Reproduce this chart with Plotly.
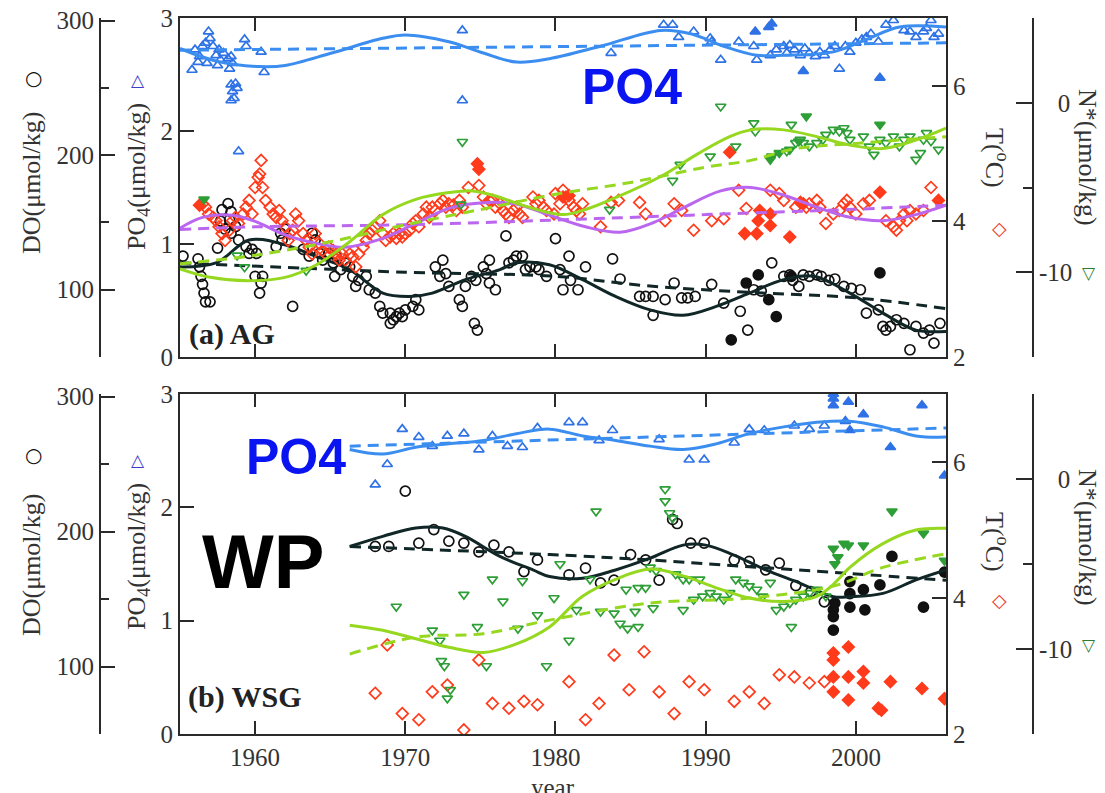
import plotly.graph_objects as go

# ---------------- DATA: (a) AG ----------------
AG_PO4_OPEN = [(1955.8,2.54),(1956.0,2.72),(1956.2,2.61),(1956.3,2.66),(1956.5,2.75),(1956.7,2.78),(1956.8,2.60),
    (1956.9,2.88),(1957.0,2.82),(1957.2,2.75),(1957.4,2.67),(1957.5,2.58),(1957.6,2.72),(1957.7,2.63),(1957.9,2.69),
    (1958.2,2.64),(1958.3,2.55),(1958.4,2.66),(1958.5,2.60),(1958.4,2.41),(1958.7,2.42),(1958.5,2.35),(1958.8,2.38),
    (1958.6,2.29),(1958.4,2.27),(1958.9,1.82),(1959.3,2.81),(1959.4,2.75),(1960.4,2.70),(1960.6,2.52),(1973.8,2.89),
    (1973.8,2.27),(1983.7,2.69),(1987.2,2.94),(1987.8,2.94),(1988.2,2.83),(1989.2,2.88),(1990.3,2.82),(1990.4,2.79),
    (1991.0,2.63),(1992.2,2.79),(1993.2,2.75),(1993.4,2.63),(1994.3,2.67),(1994.7,2.72),(1995.2,2.75),(1995.4,2.69),
    (1995.6,2.76),(1995.9,2.72),(1996.3,2.67),(1996.6,2.73),(1996.9,2.69),(1997.3,2.66),(1997.6,2.70),(1997.9,2.67),
    (1998.3,2.72),(1998.6,2.75),(1998.9,2.55),(1999.3,2.75),(1999.6,2.70),(2000.0,2.78),(2000.4,2.81),(2000.7,2.83),
    (2001.0,2.86),(2001.5,2.79),(2002.0,2.94),(2002.5,2.98),(2003.2,2.89),(2003.6,2.88),(2004.0,2.83),(2004.5,2.88),
    (2004.7,2.91),(2005.0,2.98),(2005.2,2.83),(2005.5,2.86)]
AG_PO4_FILLED = [(1993.3,2.88),(1994.2,2.92),(1994.4,2.95),(1996.5,2.53),(2001.6,2.47)]
AG_PO4_FIT_YEAR = [1955,1957.4,1960.3,1962,1965.1,1968.5,1970,1972.9,1975.2,1977.4,1979.6,1983,1987,1989,1991.2,
    1993.4,1995.2,1998.5,2000.7,2002.9,2006]
AG_PO4_FIT = [2.73,2.62,2.57,2.58,2.69,2.82,2.85,2.79,2.69,2.61,2.64,2.75,2.89,2.86,2.75,2.67,2.67,2.70,2.81,2.92,2.92]
AG_PO4_TREND_YEAR = [1955, 2006]
AG_PO4_TREND = [2.715, 2.78]

AG_DO_OPEN = [(1955.2,125),(1956.2,123),(1956.3,117),(1956.4,110),(1956.5,104),(1956.6,97.5),(1956.7,91),(1957.0,91),
    (1957.5,131),(1957.7,151),(1957.8,159.5),(1958.2,164),(1958.4,158),(1958.4,142),(1958.7,147),(1958.3,152),
    (1958.0,145),(1958.9,137),(1959.4,132),(1959.6,127),(1959.8,130),(1960.1,127),(1960.0,110),(1960.3,97.5),
    (1960.5,110),(1960.4,105),(1961.4,132),(1961.7,142),(1961.8,137),(1962.0,145),(1962.5,87.6),(1963.2,130),
    (1963.6,125),(1963.8,142),(1964.0,137),(1964.3,127),(1964.5,122),(1964.9,127),(1965.2,120),(1965.4,125),
    (1965.3,110),(1965.7,115),(1966.0,120),(1966.3,117),(1966.5,110),(1966.7,102.5),(1966.9,107),(1967.4,110),
    (1967.6,100),(1968.0,97.5),(1968.3,87.6),(1968.5,82.6),(1969.0,82.6),(1969.0,75),(1969.2,77.7),(1969.4,80),
    (1969.6,82.6),(1969.8,80),(1970.0,85),(1970.5,87.6),(1970.7,92.6),(1970.9,85),(1972.0,117),(1972.5,122),
    (1972.3,110),(1972.7,112),(1972.9,102.5),(1973.6,92.6),(1973.8,87.6),(1974.0,102.5),(1974.4,110),(1974.6,75),
    (1974.8,70),(1974.7,107),(1975.2,117),(1975.4,112),(1975.6,105),(1976.0,100),(1975.6,122),(1976.7,140),
    (1976.9,120),(1977.2,122),(1977.4,125),(1977.8,125),(1978.0,115),(1978.3,117),(1978.7,117),(1978.9,115),
    (1979.4,110),(1980.0,138),(1980.3,115),(1980.5,100),(1980.9,125),(1981.0,107),(1981.5,100),(1982.0,117),
    (1983.8,123),(1984.3,108),(1985.6,95),(1986.0,95),(1986.5,95),(1986.5,81),(1987.3,92.6),(1987.9,105),
    (1988.4,94),(1988.8,94),(1989.3,95),(1990.4,104),(1991.2,90),(1992.3,84),(1992.8,70),(1993.2,100),(1993.7,99),
    (1994.4,120),(1995.2,110),(1995.6,111),(1995.8,107),(1996.2,102.5),(1996.5,111),(1996.9,110),(1997.4,111),
    (1997.7,110),(1998.2,107),(1998.6,108),(1999.2,102.5),(1999.7,101),(2000.3,100),(2000.7,82.6),(2001.5,85),
    (2001.8,72.7),(2002.0,70),(2002.3,72.7),(2002.7,77.7),(2003.2,75),(2003.6,55.4),(2004.0,72.7),(2004.5,67.8),
    (2004.9,70),(2005.2,60.3),(2005.6,75)]
AG_DO_FILLED = [(1992.7,105),(1993.5,111),(1994.2,92.6),(1994.7,80),(1991.7,62.8),(1995.7,110),(2001.6,112.5)]
AG_DO_FIT_YEAR = [1955,1957.4,1959.6,1961.8,1964,1966.3,1968.5,1970.3,1971.8,1974,1976.3,1977.4,1979.6,1981.8,1984,
    1986.3,1988.5,1990.7,1992.9,1995.2,1997.2,1999.6,2001.8,2004,2006]
AG_DO_FIT = [117,120,137,134,125,115,97.5,95,97.5,107.5,115,120,118.6,107.5,95,85,81,87.6,97.5,107.5,110,97.5,82.6,70,69]
AG_DO_TREND_YEAR = [1955,1970,1980,1986,1993,2000,2006]
AG_DO_TREND = [120,113,110,103,98,94,86]

AG_T_OPEN = [(1956.5,4.26),(1956.7,4.21),(1956.9,4.11),(1957.2,4.06),(1957.4,4.01),(1957.6,3.92),(1957.8,3.82),
    (1958.0,3.72),(1958.3,3.87),(1958.5,4.01),(1958.7,4.06),(1958.9,3.97),(1959.2,4.11),(1959.4,4.21),(1959.6,4.31),
    (1959.8,4.11),(1960.0,4.50),(1960.2,4.65),(1960.3,4.70),(1960.4,4.90),(1960.5,4.50),(1960.7,4.31),(1961.0,4.21),
    (1961.2,4.11),(1961.4,4.06),(1961.6,4.16),(1961.8,4.01),(1962.0,3.92),(1962.2,3.72),(1962.3,3.82),(1962.5,3.87),
    (1962.7,4.11),(1962.9,4.01),(1963.2,3.82),(1963.4,3.72),(1963.6,3.62),(1963.8,3.52),(1964.0,3.82),(1964.3,3.67),
    (1964.5,3.57),(1964.7,3.52),(1964.9,3.62),(1965.2,3.57),(1965.4,3.52),(1965.6,3.43),(1965.8,3.52),(1966.0,3.43),
    (1966.3,3.52),(1966.5,3.48),(1966.7,3.33),(1966.9,3.52),(1967.2,3.62),(1967.4,3.72),(1967.6,3.82),(1967.8,3.87),
    (1968.0,3.92),(1968.3,4.01),(1968.5,3.82),(1968.7,3.72),(1969.0,3.77),(1969.2,3.82),(1969.4,3.75),(1969.6,3.82),
    (1969.8,3.77),(1970.0,3.82),(1970.3,3.87),(1970.5,3.97),(1970.7,4.01),(1970.9,3.92),(1971.2,4.11),(1971.4,4.21),
    (1971.6,4.06),(1971.8,4.21),(1972.0,4.16),(1972.3,4.26),(1972.5,4.31),(1972.7,4.21),(1972.9,4.26),(1973.2,4.24),
    (1973.4,4.16),(1973.6,4.31),(1973.8,4.21),(1974.2,4.50),(1974.9,4.53),(1975.2,4.36),(1975.4,4.26),(1975.6,4.31),
    (1975.8,4.31),(1976.0,4.21),(1976.3,4.26),(1976.5,4.16),(1976.7,4.11),(1976.9,4.06),(1977.2,4.16),(1977.4,4.21),
    (1977.6,4.11),(1977.8,4.06),(1978.5,4.36),(1978.7,4.26),(1978.9,4.31),(1979.2,4.21),(1979.4,4.16),(1980.0,4.41),
    (1980.5,4.46),(1980.7,4.36),(1980.9,4.31),(1980.3,4.26),(1979.9,4.11),(1981.2,4.21),(1981.4,4.16),(1981.6,4.11),
    (1981.8,4.26),(1983.0,3.92),(1983.7,4.28),(1984.2,4.31),(1985.6,4.28),(1986.0,4.11),(1987.3,4.01),(1987.9,4.26),
    (1988.4,4.16),(1989.2,3.87),(1990.4,4.01),(1991.2,4.04),(1992.2,4.46),(1992.7,4.19),(1994.3,4.46),(1994.9,4.41),
    (1995.2,4.31),(1996.0,4.21),(1996.7,4.21),(1996.9,4.26),(1997.4,4.31),(1997.6,4.21),(1998.0,3.97),(1998.5,4.11),
    (1998.9,4.16),(1999.2,4.26),(1999.4,4.31),(1999.6,4.21),(2000.0,4.11),(2000.5,4.26),(2000.9,4.31),(2002.0,4.01),
    (2002.5,3.92),(2002.7,3.87),(2002.9,4.01),(2003.2,4.11),(2003.4,4.01),(2003.6,4.16),(2004.0,4.11),(2004.5,4.16),
    (2005.0,4.50)]
AG_T_FILLED = [(1956.3,4.24),(1974.8,4.85),(1974.9,4.77),(1980.5,4.36),(1980.9,4.38),(1991.6,5.02),(1992.6,3.82),
    (1993.4,3.82),(1993.5,4.01),(1993.6,4.16),(1994.3,4.11),(1994.3,3.94),(1995.6,3.77),(1996.3,4.28),(1996.5,4.26),
    (2001.6,4.43),(2005.5,4.31)]
AG_T_FIT_YEAR = [1955,1956.5,1958.5,1960,1962,1964,1966,1968.5,1970.7,1973,1975.5,1977.5,1979.5,1982,1984.3,1986.5,
    1988.5,1991,1993,1995,1997.4,1999.6,2001.8,2004,2006]
AG_T_FIT = [3.90,4.06,4.09,4.00,3.80,3.68,3.62,3.75,3.97,4.20,4.28,4.25,4.10,3.92,3.84,3.98,4.20,4.45,4.50,4.40,4.21,
    4.06,4.01,4.10,4.24]
AG_T_TREND_YEAR = [1955,1960,1970,1980,1990,2000,2006]
AG_T_TREND = [3.88,3.92,3.95,4.02,4.10,4.18,4.24]

AG_N_OPEN = [(1958.8,-9.0),(1959.3,-9.7),(1963.4,-9.9),(1973.8,-2.3),(1973.7,-6.0),(1983.6,-6.3),(1987.8,-4.6),
    (1988.3,-3.65),(1990.3,-3.16),(1991.0,-0.22),(1992.0,-2.57),(1993.2,-1.2),(1993.3,-1.69),(1995.7,-1.29),
    (1995.4,-2.86),(1996.0,-2.37),(1996.3,-2.18),(1996.5,-2.37),(1996.9,-2.57),(1997.4,-2.37),(1997.8,-2.18),
    (1998.0,-1.88),(1998.5,-1.59),(1998.9,-1.69),(1999.2,-1.49),(1999.4,-1.78),(1999.6,-2.18),(2000.5,-1.98),
    (2000.9,-2.57),(2001.2,-3.06),(2001.6,-2.18),(2002.0,-2.37),(2002.5,-1.98),(2002.9,-2.57),(2003.2,-2.18),
    (2003.6,-1.98),(2004.0,-3.35),(2004.3,-2.96),(2004.5,-2.18),(2004.7,-1.78),(2005.0,-2.27),(2005.5,-2.76)]
AG_N_FILLED = [(1956.6,-5.7),(1996.7,-0.8),(2001.6,-1.29),(1994.3,-3.35),(1994.4,-3.16),(1994.9,-2.96),
    (1995.6,-2.76),(1996.2,-2.27)]
AG_N_FIT_YEAR = [1955,1957,1959.5,1962,1964,1966.3,1968.5,1970.7,1972.9,1974.5,1976,1978,1980.5,1982,1984,1987,
    1989.5,1991.6,1993,1995.2,1997.4,1999.6,2001.8,2004,2006]
AG_N_FIT = [-9.8,-10.3,-10.5,-10.3,-9.6,-8.2,-6.6,-5.7,-5.3,-5.2,-5.5,-6.1,-6.6,-6.3,-5.6,-4.35,-3.0,-2.0,-1.6,-1.6,
    -2.0,-2.5,-2.7,-2.2,-1.5]
AG_N_TREND_YEAR = [1955,1960,1965,1970,1975,1980,1985,1990,1993,1996,2000,2006]
AG_N_TREND = [-9.5,-9.0,-8.2,-7.2,-6.3,-5.4,-4.7,-3.8,-3.4,-2.7,-2.4,-2.0]

# ---------------- DATA: (b) WSG ----------------
WSG_PO4_OPEN = [(1968.0,2.20),(1968.8,2.38),(1969.8,2.69),(1970.9,2.62),(1971.8,2.54),(1972.8,2.63),(1973.9,2.65),
    (1974.9,2.51),(1975.8,2.63),(1976.8,2.54),(1977.8,2.53),(1978.8,2.70),(1980.9,2.75),(1981.8,2.75),(1982.9,2.59),
    (1983.8,2.68),(1986.9,2.60),(1988.9,2.42),(1989.9,2.42),(1991.9,2.57),(1992.9,2.69),(1993.9,2.68),(1995.9,2.72),
    (1996.9,2.69),(1997.9,2.72)]
WSG_PO4_FILLED = [(1998.5,3.0),(1998.5,2.96),(1998.5,2.90),(1999.3,2.76),(1999.5,2.93),(1999.6,2.68),(2000.5,2.82),
    (2002.3,2.53),(2004.4,2.90),(2005.9,2.28)]
WSG_PO4_FIT_YEAR = [1966.3,1968.5,1970.7,1972.9,1975.2,1977.4,1979.6,1981.8,1984,1986.3,1988.5,1990.7,1992.9,1995.2,
    1997.4,1999.6,2001.8,2004,2006]
WSG_PO4_FIT = [2.51,2.47,2.53,2.56,2.59,2.65,2.69,2.63,2.59,2.54,2.51,2.56,2.65,2.71,2.75,2.76,2.71,2.63,2.62]
WSG_PO4_TREND_YEAR = [1966.3, 2006]
WSG_PO4_TREND = [2.54, 2.70]

WSG_DO_OPEN = [(1970.0,230),(1968.0,189),(1968.9,189),(1970.9,191.5),(1971.9,201.5),(1972.9,193),(1973.9,191.5),
    (1974.9,185),(1975.9,190),(1976.9,185),(1977.9,170.4),(1978.8,179),(1980.9,168),(1982.0,173),(1983.0,162),
    (1983.9,164),(1985.0,183),(1986.0,179),(1986.9,164),(1987.8,209),(1988.1,206),(1989.0,191.5),(1989.9,191.5),
    (1991.9,179),(1992.9,178),(1994.0,171.6),(1994.9,176.6),(1996.0,160),(1997.0,155.5),(1997.9,148)]
WSG_DO_FILLED = [(1998.5,142),(1998.5,137),(1998.5,127),(1998.6,147),(1999.6,163),(1999.6,154),(1999.6,144),
    (2000.5,157),(2000.6,142),(2001.6,160.5),(2002.4,181.6),(2004.5,144),(2005.9,170)]
WSG_DO_FIT_YEAR = [1966.3,1968.5,1970.7,1972.5,1974,1976.3,1978.5,1979.6,1981.8,1984,1986.3,1988.5,1990,1991.8,1994,
    1996.3,1998.5,1999.6,2001.8,2004,2006]
WSG_DO_FIT = [189,196.5,202.7,202.7,196.5,181.6,171.6,166.7,165.4,171.6,180.3,190,190,183,171.6,161.7,151.7,151.7,
    154.2,164.2,171.6]
WSG_DO_TREND_YEAR = [1966.3,1979.6,1986.3,1992.9,1999.6,2006]
WSG_DO_TREND = [189,183,179,174,169,164]

WSG_T_OPEN = [(1968.0,2.60),(1968.8,3.31),(1969.8,2.30),(1970.9,2.21),(1971.8,2.62),(1972.8,2.72),(1973.9,2.06),
    (1974.9,3.09),(1975.8,2.45),(1976.9,2.38),(1977.9,2.48),(1978.8,2.43),(1980.9,2.77),(1982.0,2.21),(1982.9,2.45),
    (1983.9,3.16),(1984.9,2.65),(1985.9,3.21),(1986.9,2.62),(1987.9,2.30),(1988.9,2.77),(1989.9,2.65),(1991.9,2.48),
    (1992.9,2.62),(1993.9,2.45),(1994.9,2.87),(1995.9,2.84),(1996.9,2.75),(1997.9,2.77)]
WSG_T_FILLED = [(1998.5,3.19),(1998.5,3.09),(1998.5,2.84),(1998.5,2.62),(1999.5,3.28),(1999.5,2.84),(1999.5,2.50),
    (2000.5,2.92),(2000.5,2.75),(2001.5,2.38),(2001.7,2.35),(2002.3,2.77),(2004.4,2.67),(2005.9,2.52)]

WSG_N_OPEN = [(1969.4,-7.5),(1971.8,-8.9),(1972.3,-9.5),(1972.4,-10.7),(1972.6,-11.0),(1972.8,-12.9),(1973.0,-12.4),
    (1973.9,-6.8),(1974.8,-8.7),(1975.4,-11.0),(1975.8,-5.9),(1976.5,-7.2),(1977.5,-8.8),(1977.8,-6.0),(1978.8,-8.0),
    (1979.4,-11.0),(1979.9,-7.0),(1980.3,-5.0),(1980.9,-9.5),(1981.4,-7.7),(1982.3,-5.9),(1982.7,-1.9),(1983.0,-7.8),
    (1983.9,-7.9),(1984.3,-8.5),(1984.8,-8.8),(1985.3,-7.8),(1985.5,-8.7),(1984.7,-6.5),(1985.5,-6.4),(1986.0,-6.4),
    (1986.5,-7.6),(1986.3,-5.2),(1986.7,-5.4),(1987.3,-0.6),(1987.3,-1.3),(1987.6,-2.0),(1987.8,-2.3),(1988.0,-5.6),
    (1988.5,-5.9),(1988.9,-5.9),(1989.6,-5.9),(1988.5,-7.7),(1989.2,-7.1),(1989.8,-6.9),(1990.3,-6.7),(1990.7,-6.9),
    (1991.2,-7.1),(1991.6,-6.7),(1992.0,-5.9),(1992.5,-6.1),(1992.9,-6.3),(1993.4,-6.5),(1993.8,-6.9),(1994.3,-6.1),
    (1994.7,-7.7),(1995.2,-7.5),(1995.6,-7.3),(1995.7,-8.7),(1996.0,-7.1),(1996.5,-6.9),(1996.9,-6.7),(1997.4,-6.5),
    (1998.0,-6.9)]
WSG_N_FILLED = [(1998.5,-4.1),(1998.6,-5.0),(1998.8,-4.6),(1999.2,-3.8),(1999.5,-3.9),(2000.5,-3.9),(2002.4,-1.9),
    (2004.5,-3.2),(2005.9,-4.8)]
WSG_N_FIT_YEAR = [1966.3,1968.5,1970.7,1972.9,1975.2,1977.4,1979.6,1981.8,1984,1986.3,1988.5,1990.7,1992.9,1995.2,
    1997.4,1998.5,1999.6,2001.8,2004,2006]
WSG_N_FIT = [-8.6,-8.9,-9.4,-9.9,-10.2,-9.7,-8.7,-6.9,-5.9,-5.3,-5.7,-6.4,-7.0,-7.2,-6.9,-6.2,-5.2,-3.8,-3.0,-2.9]
WSG_N_TREND_YEAR = [1966.3,1970.7,1975.2,1979.6,1986.3,1992.9,1998.5,2001.8,2006]
WSG_N_TREND = [-10.3,-9.3,-9.1,-8.3,-7.3,-7.0,-6.3,-5.2,-4.4]

X_TICKS = [1960, 1970, 1980, 1990, 2000]

# ---------------- STYLE ----------------
W, H = 1105, 793
BLUE_M, BLUE_L = "#2f72e6", "#3b8ef0"
BLACK_M, BLACK_L = "#111111", "#112626"
RED_M = "#ff3b1c"
PURPLE_L = "#bb66ee"
GREEN_M, GREEN_L = "#2e9e36", "#96d820"
AX = "#2a2a2a"
TXT = "#333333"
SERIF = "Liberation Serif, Times New Roman, serif"
SANS = "Liberation Sans, Arial, sans-serif"

X0, X1 = 180 / W, 946 / W
TOP_DOM = [1 - 357 / H, 1 - 18 / H]
BOT_DOM = [1 - 734 / H, 1 - 394 / H]
DO_POS = 100 / W
N_POS = 1033 / W

fig = go.Figure()


def pts(data):
    return [p[0] for p in data], [p[1] for p in data]


def markers(data, xa, ya, symbol, color, size=9):
    xs, ys = pts(data)
    fig.add_trace(go.Scatter(x=xs, y=ys, xaxis=xa, yaxis=ya, mode="markers",
                             marker=dict(symbol=symbol, size=size, color=color,
                                         line=dict(color=color, width=1.7)),
                             showlegend=False, hoverinfo="skip"))


def curve(xs, ys, xa, ya, color, dash="solid"):
    fig.add_trace(go.Scatter(x=xs, y=ys, xaxis=xa, yaxis=ya, mode="lines",
                             line=dict(color=color, width=3, dash=dash, shape="spline", smoothing=1.0),
                             showlegend=False, hoverinfo="skip"))


DASH = "11px,7px"

# panel (a): x / y(PO4) / y2(DO) / y3(T) / y4(N*)
markers(AG_T_OPEN, "x", "y3", "diamond-open", RED_M)
markers(AG_T_FILLED, "x", "y3", "diamond", RED_M)
markers(AG_N_OPEN, "x", "y4", "triangle-down-open", GREEN_M)
markers(AG_N_FILLED, "x", "y4", "triangle-down", GREEN_M)
markers(AG_DO_OPEN, "x", "y2", "circle-open", BLACK_M, 10)
markers(AG_DO_FILLED, "x", "y2", "circle", BLACK_M, 10)
markers(AG_PO4_OPEN, "x", "y", "triangle-up-open", BLUE_M)
markers(AG_PO4_FILLED, "x", "y", "triangle-up", BLUE_M)
curve(AG_T_FIT_YEAR, AG_T_FIT, "x", "y3", PURPLE_L)
curve(AG_T_TREND_YEAR, AG_T_TREND, "x", "y3", PURPLE_L, DASH)
curve(AG_N_FIT_YEAR, AG_N_FIT, "x", "y4", GREEN_L)
curve(AG_N_TREND_YEAR, AG_N_TREND, "x", "y4", GREEN_L, DASH)
curve(AG_DO_FIT_YEAR, AG_DO_FIT, "x", "y2", BLACK_L)
curve(AG_DO_TREND_YEAR, AG_DO_TREND, "x", "y2", BLACK_L, DASH)
curve(AG_PO4_FIT_YEAR, AG_PO4_FIT, "x", "y", BLUE_L)
curve(AG_PO4_TREND_YEAR, AG_PO4_TREND, "x", "y", BLUE_L, DASH)

# panel (b): x2 / y5(PO4) / y6(DO) / y7(T) / y8(N*)
markers(WSG_T_OPEN, "x2", "y7", "diamond-open", RED_M)
markers(WSG_T_FILLED, "x2", "y7", "diamond", RED_M)
markers(WSG_N_OPEN, "x2", "y8", "triangle-down-open", GREEN_M)
markers(WSG_N_FILLED, "x2", "y8", "triangle-down", GREEN_M)
markers(WSG_DO_OPEN, "x2", "y6", "circle-open", BLACK_M, 10)
markers(WSG_DO_FILLED, "x2", "y6", "circle", BLACK_M, 10)
markers(WSG_PO4_OPEN, "x2", "y5", "triangle-up-open", BLUE_M)
markers(WSG_PO4_FILLED, "x2", "y5", "triangle-up", BLUE_M)
curve(WSG_N_FIT_YEAR, WSG_N_FIT, "x2", "y8", GREEN_L)
curve(WSG_N_TREND_YEAR, WSG_N_TREND, "x2", "y8", GREEN_L, DASH)
curve(WSG_DO_FIT_YEAR, WSG_DO_FIT, "x2", "y6", BLACK_L)
curve(WSG_DO_TREND_YEAR, WSG_DO_TREND, "x2", "y6", BLACK_L, DASH)
curve(WSG_PO4_FIT_YEAR, WSG_PO4_FIT, "x2", "y5", BLUE_L)
curve(WSG_PO4_TREND_YEAR, WSG_PO4_TREND, "x2", "y5", BLUE_L, DASH)

tickfont = dict(family=SERIF, size=25, color=TXT)
NB = "\u00a0"


def xaxis(labels, anchor):
    return dict(domain=[X0, X1], range=[1955, 2006], anchor=anchor, tickvals=X_TICKS,
                showticklabels=labels, ticks="inside", ticklen=13, tickwidth=2, tickcolor=AX,
                showline=True, linecolor=AX, linewidth=2, mirror="ticks", showgrid=False,
                zeroline=False, tickfont=tickfont, automargin=False)


def po4_axis(dom, anchor):
    return dict(domain=dom, range=[0, 3], anchor=anchor, tickvals=[0, 1, 2, 3], ticks="inside",
                ticklen=14, tickwidth=2, tickcolor=AX, showline=True, linecolor=AX, linewidth=2,
                showgrid=False, zeroline=False, tickfont=tickfont, automargin=False)


def do_axis(dom, over):
    return dict(domain=dom, range=[50, 302], overlaying=over, anchor="free", position=DO_POS, side="left",
                tickvals=[100, 200, 300], ticks="inside",
                ticklen=14, tickwidth=2, tickcolor=AX, showline=True, linecolor=AX, linewidth=2,
                minor=dict(tickvals=[50, 150, 250], ticks="inside", ticklen=8, tickwidth=2, tickcolor=AX),
                showgrid=False, zeroline=False, tickfont=tickfont, automargin=False)


def t_axis(dom, over, anchor):
    return dict(domain=dom, range=[2, 7], overlaying=over, anchor=anchor, side="right",
                tickvals=[2, 4, 6], ticks="inside", ticklen=14, tickwidth=2, tickcolor=AX,
                showline=True, linecolor=AX, linewidth=2, showgrid=False, zeroline=False, tickfont=tickfont,
                automargin=False)


def n_axis(dom, over):
    return dict(domain=dom, range=[-15, 5], overlaying=over, anchor="free", position=N_POS, side="right",
                tickvals=[-10, 0], ticktext=["-10", NB * 3 + "0"], ticks="inside",
                ticklen=16, tickwidth=2, tickcolor=AX, showline=True, linecolor=AX, linewidth=2,
                minor=dict(tickvals=[-15, -5, 5], ticks="inside", ticklen=9, tickwidth=2, tickcolor=AX),
                showgrid=False, zeroline=False, tickfont=tickfont, automargin=False)


def px(x):
    return x / W


def py(y):
    return 1 - y / H


ann = []


def text(x, y, s, size, family=SERIF, color=TXT, angle=0, bold=False):
    ann.append(dict(x=px(x), y=py(y), xref="paper", yref="paper", text=("<b>%s</b>" % s) if bold else s,
                    showarrow=False, textangle=angle, xanchor="center", yanchor="middle",
                    font=dict(family=family, size=size, color=color)))


for (yc_do, yc_po, yc_t, yc_n, y_o, y_tri, y_dia, y_ntri) in [
        (183, 177, 158, 157, 78, 80, 228, 273),
        (565, 557, 542, 537, 455, 460, 600, 645)]:
    text(31, yc_do, "DO(\u03bcmol/kg)", 26, angle=-90)
    text(33, y_o, "\u25cb", 20, family="DejaVu Sans", color="#111111")
    text(138, yc_po, "PO<sub>4</sub>(\u03bcmol/kg)", 26, angle=-90)
    text(138, y_tri, "\u25b3", 17, family="DejaVu Sans", color="#3d3dc8", bold=True)
    text(997, yc_t, "T(<sup>o</sup>C)", 26, angle=90)
    text(999, y_dia, "\u25c7", 19, family="DejaVu Sans", color="#f03a28", bold=True)
    text(1088, yc_n, "N*(\u03bcmol/kg)", 26, angle=90)
    text(1089, y_ntri, "\u25bd", 17, family="DejaVu Sans", color="#2d7d2d", bold=True)

text(232, 334, "(a) AG", 30, color="#222222", bold=True)
text(245, 697, "(b) WSG", 30, color="#222222", bold=True)
text(632, 87, "PO4", 50, family=SANS, color="#0a14f0", bold=True)
text(296, 457, "PO4", 50, family=SANS, color="#0a14f0", bold=True)
text(263, 561, "WP", 76, family=SANS, color="#000000", bold=True)
text(553, 787, "year", 25)

fig.update_layout(
    width=W, height=H, margin=dict(l=0, r=0, t=0, b=0, pad=0, autoexpand=False),
    paper_bgcolor="white", plot_bgcolor="white", showlegend=False,
    xaxis=xaxis(False, "y"),
    yaxis=po4_axis(TOP_DOM, "x"),
    yaxis2=do_axis(TOP_DOM, "y"),
    yaxis3=t_axis(TOP_DOM, "y", "x"),
    yaxis4=n_axis(TOP_DOM, "y"),
    xaxis2=xaxis(True, "y5"),
    yaxis5=po4_axis(BOT_DOM, "x2"),
    yaxis6=do_axis(BOT_DOM, "y5"),
    yaxis7=t_axis(BOT_DOM, "y5", "x2"),
    yaxis8=n_axis(BOT_DOM, "y5"),
    annotations=ann,
)

fig.write_html("out.html", config={"displayModeBar": False},
               post_script="document.body.style.margin='0';document.body.style.overflow='hidden';")
